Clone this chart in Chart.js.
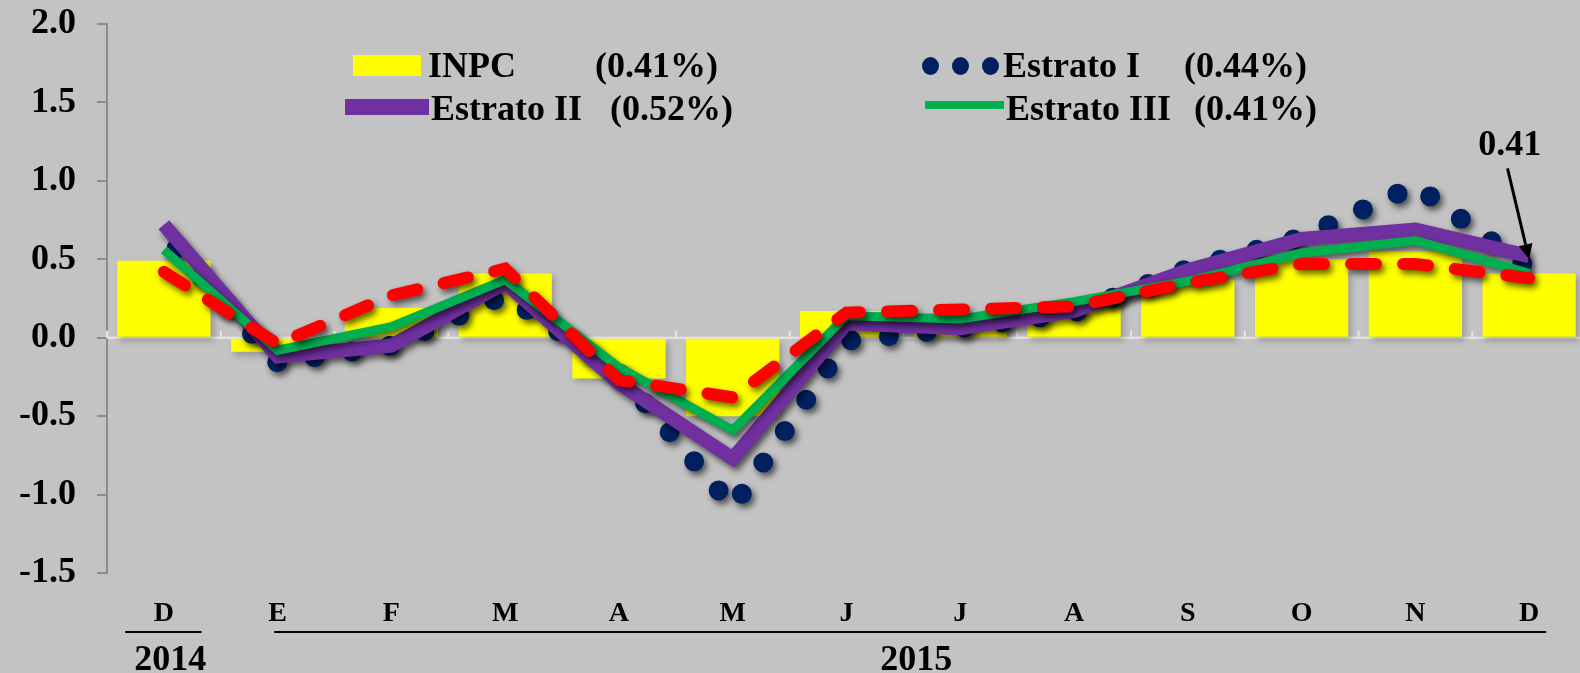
<!DOCTYPE html>
<html lang="es">
<head>
<meta charset="utf-8">
<title>INPC por estrato</title>
<script src="https://cdn.jsdelivr.net/npm/chart.js@4"></script>
<style>
  html, body { margin: 0; padding: 0; background: #c3c3c3; overflow: hidden; }
  #wrap { position: relative; width: 1586px; height: 673px; }
  .ley { position: absolute; font: bold 36px 'Liberation Serif', 'Times New Roman', serif; line-height: 36px; color: #000; white-space: nowrap; }
  .sim { position: absolute; }
  .punto { position: absolute; width: 17px; height: 18px; border-radius: 50%; background: #002060; }
</style>
</head>
<body>
<div id="wrap">
  <canvas id="grafica" width="1586" height="673"></canvas>
  <!-- leyenda -->
  <div class="sim" style="left:353px;top:55px;width:68px;height:21px;background:#ffff00;"></div>
  <div class="ley" id="ley-0-n" style="left:428px;top:47px;"></div>
  <div class="ley" id="ley-0-v" style="left:595px;top:47px;"></div>
  <div class="punto" style="left:922px;top:57px;"></div>
  <div class="punto" style="left:952px;top:57px;"></div>
  <div class="punto" style="left:982px;top:57px;"></div>
  <div class="ley" id="ley-1-n" style="left:1003px;top:47px;"></div>
  <div class="ley" id="ley-1-v" style="left:1184px;top:47px;"></div>
  <div class="sim" style="left:345px;top:99px;width:84px;height:16px;background:#7030a0;"></div>
  <div class="ley" id="ley-2-n" style="left:431px;top:90px;"></div>
  <div class="ley" id="ley-2-v" style="left:610px;top:90px;"></div>
  <div class="sim" style="left:925px;top:101px;width:79px;height:8px;background:#00b050;"></div>
  <div class="ley" id="ley-3-n" style="left:1006px;top:90px;"></div>
  <div class="ley" id="ley-3-v" style="left:1194px;top:90px;"></div>
</div>
<script>
// Datos (variación mensual, %)
const meses    = ['D', 'E', 'F', 'M', 'A', 'M', 'J', 'J', 'A', 'S', 'O', 'N', 'D'];
const inpc     = [0.49, -0.09, 0.19, 0.41, -0.26, -0.50, 0.17, 0.15, 0.21, 0.37, 0.50, 0.55, 0.41];
const estrato1 = [0.66, -0.16, -0.05, 0.27, -0.22, -1.08, -0.02, 0.06, 0.16, 0.44, 0.64, 0.97, 0.44];
const estrato2 = [0.72, -0.12, -0.05, 0.35, -0.29, -0.77, 0.09, 0.06, 0.17, 0.43, 0.63, 0.69, 0.52];
const estrato3 = [0.56, -0.08, 0.07, 0.37, -0.19, -0.59, 0.14, 0.12, 0.23, 0.36, 0.54, 0.62, 0.41];
const estrato4 = [0.42, -0.04, 0.27, 0.44, -0.27, -0.38, 0.16, 0.18, 0.20, 0.35, 0.47, 0.47, 0.38];

const yTicks = [-1.5, -1.0, -0.5, 0.0, 0.5, 1.0, 1.5, 2.0];

// años bajo el eje: etiqueta, primer y último mes
const anios      = ['2014', '2015'];
const aniosDesde = [0, 1];
const aniosHasta = [0, 12];

// leyenda
const leyendaNombres = ['INPC', 'Estrato I', 'Estrato II', 'Estrato III'];
const leyendaValores = ['(0.41%)', '(0.44%)', '(0.52%)', '(0.41%)'];

// anotación
const notaTexto = '0.41';
const notaIndice = 12;

leyendaNombres.forEach((n, i) => {
  document.getElementById(`ley-${i}-n`).textContent = n;
  document.getElementById(`ley-${i}-v`).textContent = leyendaValores[i];
});

const FUENTE = "'Liberation Serif', 'Times New Roman', serif";

// sombra de las series
const sombras = {
  id: 'sombras',
  beforeDatasetDraw(chart, args) {
    const ctx = chart.ctx;
    ctx.save();
    const esBarra = chart.data.datasets[args.index].type === 'bar';
    ctx.shadowColor = esBarra ? 'rgba(0,0,0,0.22)' : 'rgba(0,0,0,0.6)';
    ctx.shadowBlur = 6;
    ctx.shadowOffsetX = 3;
    ctx.shadowOffsetY = 4;
  },
  afterDatasetDraw(chart) {
    chart.ctx.restore();
  }
};

// línea del cero con marcas entre categorías
const lineaCero = {
  id: 'lineaCero',
  beforeDatasetsDraw(chart) {
    const { ctx, chartArea, scales: { x, y } } = chart;
    const y0 = y.getPixelForValue(0);
    const paso = x.getPixelForValue(1) - x.getPixelForValue(0);
    ctx.save();
    ctx.strokeStyle = '#e6e6e6';
    ctx.lineWidth = 2;
    ctx.beginPath();
    ctx.moveTo(chartArea.left, y0);
    ctx.lineTo(chartArea.right, y0);
    for (let i = 0; i <= meses.length; i++) {
      const xp = x.getPixelForValue(0) - paso / 2 + i * paso;
      ctx.moveTo(xp, y0);
      ctx.lineTo(xp, y0 - 7);
    }
    ctx.stroke();
    ctx.restore();
  }
};

// años y anotación con flecha
const extras = {
  id: 'extras',
  afterDraw(chart) {
    const { ctx, scales: { x, y } } = chart;
    const paso = x.getPixelForValue(1) - x.getPixelForValue(0);
    ctx.save();
    ctx.fillStyle = '#000';
    ctx.strokeStyle = '#000';
    ctx.font = `bold 36px ${FUENTE}`;
    ctx.textAlign = 'center';
    ctx.textBaseline = 'alphabetic';
    anios.forEach((a, i) => {
      const x1 = x.getPixelForValue(aniosDesde[i]);
      const x2 = x.getPixelForValue(aniosHasta[i]);
      const ini = i === 0 ? x1 - paso * 0.34 : x1 - paso * 0.03;
      const fin = i === 0 ? x2 + paso * 0.33 : x2 + paso * 0.15;
      ctx.lineWidth = 2;
      ctx.beginPath();
      ctx.moveTo(ini, 632);
      ctx.lineTo(fin, 632);
      ctx.stroke();
      ctx.fillText(a, (ini + fin) / 2 + (i === 0 ? 7 : 6), 670);
    });

    // flecha hacia el último dato
    const xt = x.getPixelForValue(notaIndice);
    const yt = y.getPixelForValue(estrato2[notaIndice] - 0.02);
    const xs = xt - paso * 0.19;
    const ys = y.getPixelForValue(1.08);
    ctx.fillText(notaTexto, xt - paso * 0.17, y.getPixelForValue(1.25) + 13);
    const ang = Math.atan2(yt - ys, xt - xs);
    const largo = 15;
    ctx.lineWidth = 3;
    ctx.beginPath();
    ctx.moveTo(xs, ys);
    ctx.lineTo(xt - largo * Math.cos(ang), yt - largo * Math.sin(ang));
    ctx.stroke();
    ctx.beginPath();
    ctx.moveTo(xt, yt);
    ctx.lineTo(xt - largo * Math.cos(ang) + 7 * Math.sin(ang), yt - largo * Math.sin(ang) - 7 * Math.cos(ang));
    ctx.lineTo(xt - largo * Math.cos(ang) - 7 * Math.sin(ang), yt - largo * Math.sin(ang) + 7 * Math.cos(ang));
    ctx.closePath();
    ctx.fill();
    ctx.restore();
  }
};

new Chart(document.getElementById('grafica'), {
  data: {
    labels: meses,
    datasets: [
      {
        type: 'line', label: 'Estrato IV', data: estrato4, order: 1,
        borderColor: '#ff0000', borderWidth: 12, borderDash: [25, 27],
        borderCapStyle: 'round', pointRadius: 0, tension: 0
      },
      {
        type: 'line', label: 'Estrato III', data: estrato3, order: 2,
        borderColor: '#00b050', borderWidth: 9, pointRadius: 0, tension: 0,
        borderJoinStyle: 'miter'
      },
      {
        type: 'line', label: 'Estrato II', data: estrato2, order: 3,
        borderColor: '#7030a0', borderWidth: 14, pointRadius: 0, tension: 0,
        borderJoinStyle: 'miter'
      },
      {
        type: 'line', label: 'Estrato I', data: estrato1, order: 4,
        borderColor: '#002060', borderWidth: 20, borderDash: [0, 38],
        borderDashOffset: 19,
        borderCapStyle: 'round', pointRadius: 0, tension: 0
      },
      {
        type: 'bar', label: 'INPC', data: inpc, order: 5,
        backgroundColor: '#ffff00', barPercentage: 0.82, categoryPercentage: 1
      }
    ]
  },
  options: {
    responsive: false,
    animation: false,
    devicePixelRatio: 1,
    layout: { padding: { top: 24, right: 0, left: 0, bottom: 0 } },
    plugins: {
      legend: { display: false },
      tooltip: { enabled: false }
    },
    scales: {
      x: {
        offset: true,
        grid: { display: false },
        border: { display: false },
        ticks: {
          color: '#000',
          font: { family: FUENTE, size: 28, weight: 'bold' },
          padding: 16,
          maxRotation: 0,
          autoSkip: false
        },
        afterFit(scale) { scale.height = 100; }
      },
      y: {
        min: -1.5,
        max: 2.0,
        afterBuildTicks(scale) { scale.ticks = yTicks.map(v => ({ value: v })); },
        grid: { drawOnChartArea: false, color: '#8c8c8c', tickLength: 10, lineWidth: 2 },
        border: { color: '#8c8c8c', width: 2 },
        ticks: {
          color: '#000',
          font: { family: FUENTE, size: 36, weight: 'bold' },
          padding: 21,
          callback: v => v.toFixed(1)
        },
        afterFit(scale) {
          scale.width = 107;
          scale.paddingTop = 0;
          scale.paddingBottom = 0;
        }
      }
    }
  },
  plugins: [sombras, lineaCero, extras]
});
</script>
</body>
</html>
